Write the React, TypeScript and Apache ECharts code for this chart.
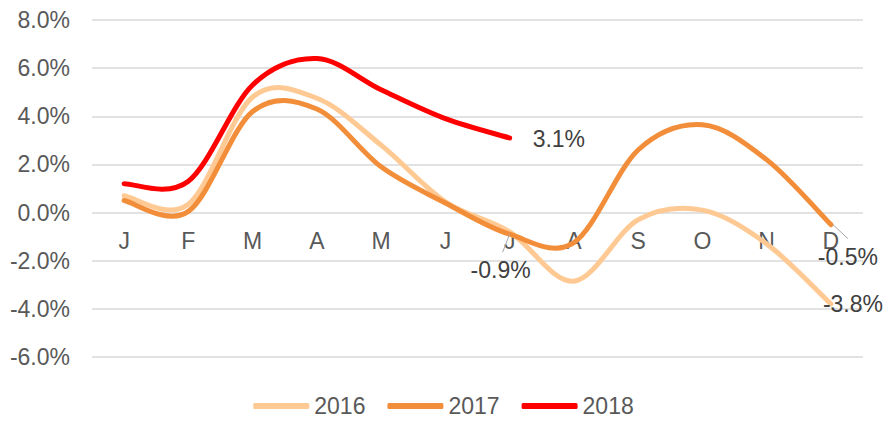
import React, { useEffect, useRef } from "react";
import * as echarts from "echarts";

const months = ["J", "F", "M", "A", "M", "J", "J", "A", "S", "O", "N", "D"];
const yMin = -6;
const yMax = 8;
const yInterval = 2;
const s2016 = [0.7, 0.35, 4.8, 4.75, 2.8, 0.45, -0.8, -2.85, -0.3, 0.1, -1.3, -3.8];
const s2017 = [0.5, 0.05, 4.2, 4.3, 1.9, 0.4, -0.9, -1.25, 2.6, 3.65, 2.2, -0.5];
const s2018 = [1.2, 1.3, 5.3, 6.4, 5.1, 3.9, 3.1];
const seriesNames = ["2016", "2017", "2018"];
const colors = ["#FFC993", "#F28E3A", "#FF0000"];

const FONT = "'Liberation Sans', Arial, sans-serif";
const FS = 23;

type LabelSpec = {
  index: number;
  dx: number;
  dy: number;
  align: "left" | "center";
  leader?: [number, number, number, number];
};

const labelSpecs: LabelSpec[][] = [
  [{ index: 11, dx: -8, dy: 0, align: "left" }],
  [
    { index: 6, dx: -9, dy: 36, align: "center", leader: [0, 0, -7, 18] },
    { index: 11, dx: 17, dy: 32, align: "center", leader: [2, 0, 17, 14] },
  ],
  [{ index: 6, dx: 23, dy: 1, align: "left" }],
];

const allValues = [s2016, s2017, s2018];

export default function App() {
  const ref = useRef<HTMLDivElement>(null);
  useEffect(() => {
    if (!ref.current) return;
    const chart = echarts.init(ref.current, undefined, { renderer: "svg" });
    const fmt = (v: number) => v.toFixed(1) + "%";

    const gridTop = 20;
    const gridBottom = 65;
    const gridHeight = 422 - gridTop - gridBottom;
    const zeroOffset = -Math.round((gridHeight * (0 - yMin)) / (yMax - yMin));

    const makeRender = (k: number) => (params: any, api: any) => {
      if (params.dataIndex !== 0) return null;
      const values = allValues[k];
      const pts = values.map((v, i) => api.coord([i, v]));
      let d = `M${pts[0][0]},${pts[0][1]}`;
      for (let i = 0; i < pts.length - 1; i++) {
        const p0 = pts[i - 1] || pts[i];
        const p1 = pts[i];
        const p2 = pts[i + 1];
        const p3 = pts[i + 2] || pts[i + 1];
        const c1x = p1[0] + (p2[0] - p0[0]) / 6;
        const c1y = p1[1] + (p2[1] - p0[1]) / 6;
        const c2x = p2[0] - (p3[0] - p1[0]) / 6;
        const c2y = p2[1] - (p3[1] - p1[1]) / 6;
        d += ` C${c1x},${c1y} ${c2x},${c2y} ${p2[0]},${p2[1]}`;
      }
      const children: any[] = [
        {
          type: "path",
          shape: { pathData: d },
          style: {
            fill: "none",
            stroke: colors[k],
            lineWidth: 5,
            lineCap: "round",
            lineJoin: "round",
          },
        },
      ];
      labelSpecs[k].forEach((spec) => {
        const p = pts[spec.index];
        if (spec.leader) {
          const [a, b, c, e] = spec.leader;
          children.push({
            type: "line",
            shape: { x1: p[0] + a, y1: p[1] + b, x2: p[0] + c, y2: p[1] + e },
            style: { stroke: "#A6A6A6", lineWidth: 1 },
            z2: 10,
          });
        }
        children.push({
          type: "text",
          x: p[0] + spec.dx,
          y: p[1] + spec.dy,
          style: {
            text: fmt(values[spec.index]),
            fontSize: FS,
            fontFamily: FONT,
            fill: "#404040",
            align: spec.align,
            verticalAlign: "middle",
          },
          z2: 11,
        });
      });
      return { type: "group", children };
    };

    chart.setOption({
      animation: false,
      grid: { left: 92, right: 24, top: gridTop, bottom: gridBottom },
      legend: {
        data: seriesNames,
        top: 393,
        left: "center",
        icon: "roundRect",
        itemWidth: 56,
        itemHeight: 6,
        itemGap: 22,
        padding: 0,
        textStyle: { fontSize: FS, fontFamily: FONT, color: "#595959", lineHeight: 26 },
      },
      xAxis: {
        type: "category",
        data: months,
        boundaryGap: true,
        offset: zeroOffset,
        axisLine: { show: false, onZero: false },
        axisTick: { show: false },
        axisLabel: { color: "#595959", fontSize: FS, fontFamily: FONT, margin: 16 },
        splitLine: { show: false },
      },
      yAxis: {
        type: "value",
        min: yMin,
        max: yMax,
        interval: yInterval,
        axisLine: { show: false },
        axisTick: { show: false },
        axisLabel: {
          color: "#595959",
          fontSize: FS,
          fontFamily: FONT,
          margin: 22,
          formatter: (v: number) => v.toFixed(1) + "%",
        },
        splitLine: { lineStyle: { color: "#D9D9D9", width: 1.5 } },
      },
      series: seriesNames.map((name, k) => ({
        name,
        type: "custom",
        data: allValues[k].map((v, i) => [i, v]),
        encode: { x: 0, y: 1 },
        renderItem: makeRender(k),
        itemStyle: { color: colors[k] },
        clip: false,
        z: 2 + k,
      })),
    });
    return () => chart.dispose();
  }, []);
  return (
    <div
      ref={ref}
      style={{ position: "absolute", left: 0, top: 0, width: 887, height: 422 }}
    />
  );
}
